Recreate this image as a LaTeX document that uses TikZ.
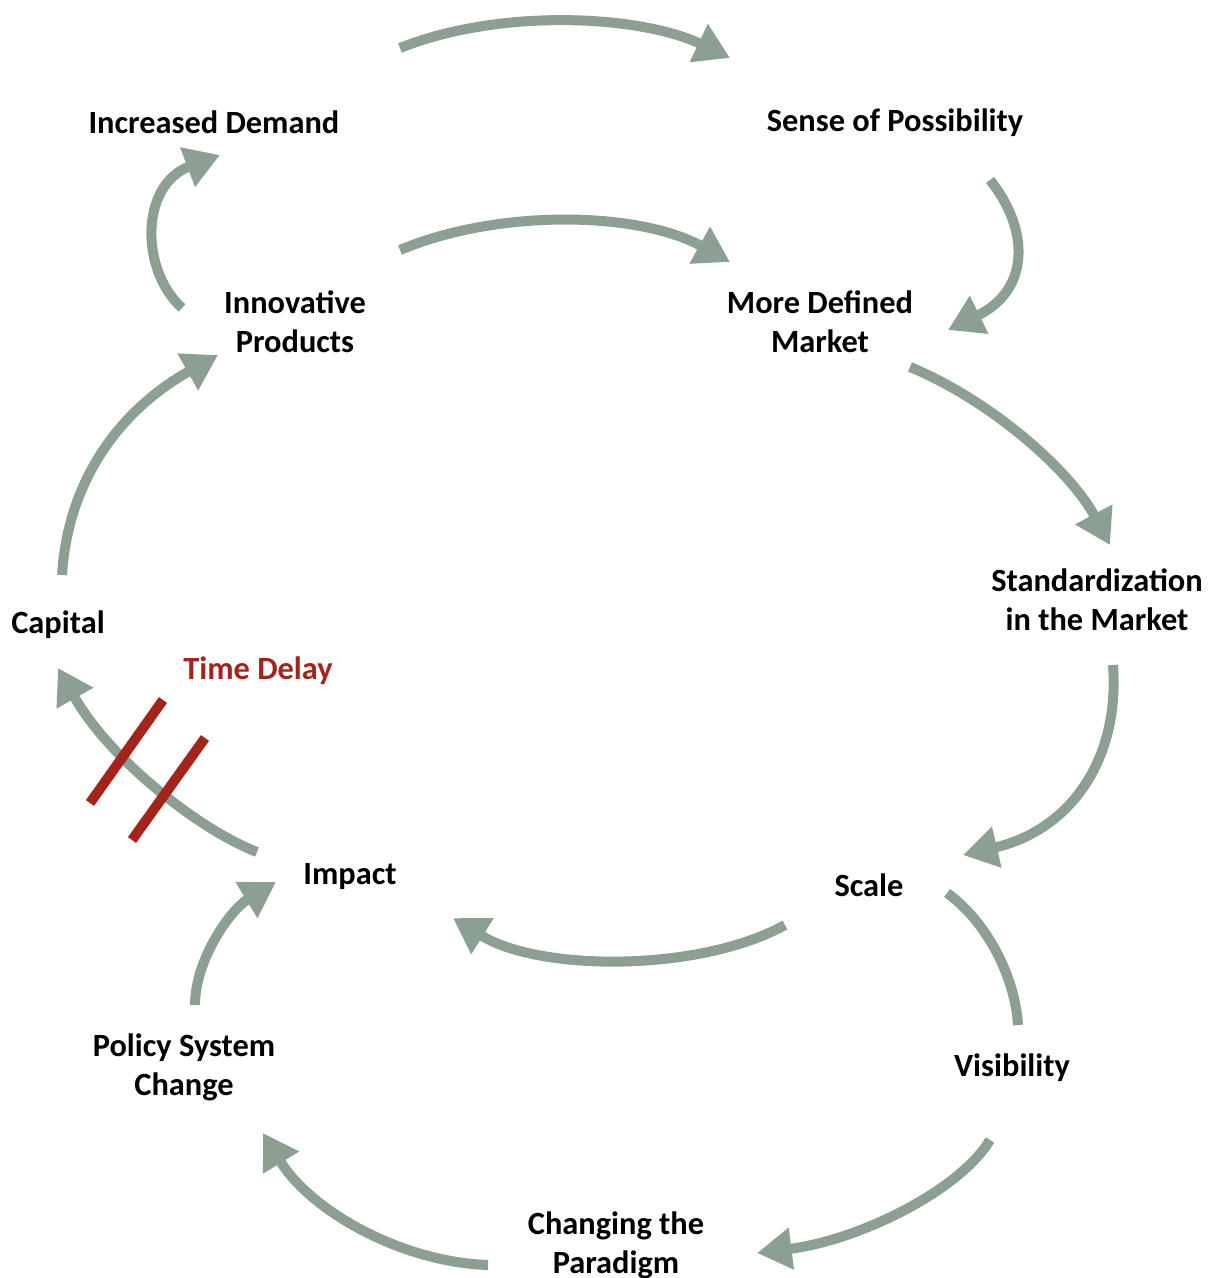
\documentclass[tikz,border=0pt]{standalone}
\usepackage{fontspec}
\setmainfont{Carlito}
\usetikzlibrary{arrows.meta}
\definecolor{arr}{HTML}{8C9F93}
\definecolor{dred}{HTML}{A3241A}
\tikzset{
  lbl/.style={font=\fontsize{24.3}{29.25}\selectfont\bfseries, align=center, text=black, inner sep=0pt},
  flow/.style={draw=arr, line width=7.5pt, -{Triangle[length=26pt,width=30pt]}},
  flowplain/.style={draw=arr, line width=7.5pt},
  bar/.style={draw=dred, line width=7.5pt}
}
\begin{document}
\begin{tikzpicture}[x=0.75pt,y=-0.75pt]
\useasboundingbox (0,0) rectangle (1212,1278);
% labels
\node[lbl] (dem) at (214,122) {Increased Demand};
\node[lbl] (sen) at (895,123) {Sense of Possibility};
\node[lbl] (inn) at (295,322) {Innovative\\Products};
\node[lbl] (mdm) at (820,322) {More Defined\\Market};
\node[lbl] (std) at (1097,600) {Standardization\\in the Market};
\node[lbl] (cap) at (58,625) {Capital};
\node[lbl, text=dred] (td) at (258,671) {Time Delay};
\node[lbl] (imp) at (350,877) {Impact};
\node[lbl] (sca) at (869,885) {Scale};
\node[lbl] (pol) at (184,1067) {Policy System\\Change};
\node[lbl] (vis) at (1012,1068) {Visibility};
\node[lbl] (chg) at (616,1245) {Changing the\\Paradigm};
% connector endpoints
\coordinate (a1s) at (400,48);   \coordinate (a1e) at (730,58);
\coordinate (a2s) at (400,250);  \coordinate (a2e) at (730,262);
\coordinate (a3s) at (990,180);  \coordinate (a3e) at (948,330);
\coordinate (a4s) at (182,308);  \coordinate (a4e) at (220,155);
\coordinate (a5s) at (910,367);  \coordinate (a5e) at (1110,545);
\coordinate (a6s) at (1113,665); \coordinate (a6e) at (963,855);
\coordinate (a7s) at (785,925);  \coordinate (a7e) at (453,918);
\coordinate (a8s) at (947,893);  \coordinate (a8e) at (1018,1025);
\coordinate (a9s) at (990,1140); \coordinate (a9e) at (757,1253);
\coordinate (a10s) at (488,1265); \coordinate (a10e) at (263,1133);
\coordinate (a11s) at (195,1005); \coordinate (a11e) at (276,882);
\coordinate (a12s) at (257,852);  \coordinate (a12e) at (58,668);
\coordinate (a13s) at (62,575);   \coordinate (a13e) at (218,355);
% connectors
\draw[flow] (a1s) .. controls (500,8) and (640,15) .. (a1e);
\draw[flow] (a2s) .. controls (500,208) and (640,212) .. (a2e);
\draw[flow] (a3s) .. controls (1030,230) and (1030,290) .. (a3e);
\draw[flow] (a4s) .. controls (140,270) and (140,185) .. (a4e);
\draw[flow] (a5s) .. controls (990,400) and (1070,470) .. (a5e);
\draw[flow] (a6s) .. controls (1120,760) and (1070,830) .. (a6e);
\draw[flow] (a7s) .. controls (700,972) and (540,972) .. (a7e);
\draw[flowplain] (a8s) .. controls (985,920) and (1015,975) .. (a8e);
\draw[flow] (a9s) .. controls (960,1190) and (860,1240) .. (a9e);
\draw[flow] (a10s) .. controls (400,1262) and (310,1210) .. (a10e);
\draw[flow] (a11s) .. controls (195,960) and (230,910) .. (a11e);
\draw[flow] (a12s) .. controls (200,830) and (110,760) .. (a12e);
\draw[flow] (a13s) .. controls (68,480) and (120,410) .. (a13e);
% time delay bars
\coordinate (b1a) at (163,700); \coordinate (b1b) at (90,803);
\coordinate (b2a) at (205,738); \coordinate (b2b) at (132,840);
\draw[bar] (b1a) -- (b1b);
\draw[bar] (b2a) -- (b2b);
\end{tikzpicture}
\end{document}
